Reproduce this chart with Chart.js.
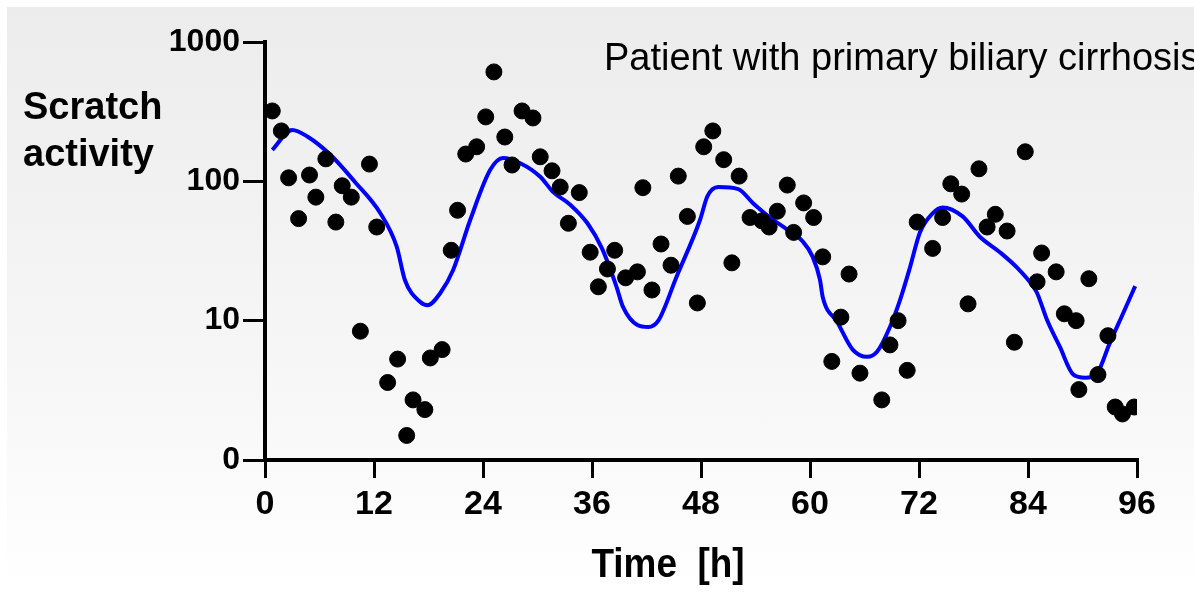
<!DOCTYPE html>
<html>
<head>
<meta charset="utf-8">
<script src="https://cdn.jsdelivr.net/npm/chart.js@4.4.0/dist/chart.umd.min.js"></script>
<style>
    html, body { margin: 0; padding: 0; background: #fff; }
    #wrap { position: relative; width: 1194px; height: 596px; overflow: hidden; }
    #panel {
        position: absolute; left: 7px; top: 7px; right: 0; bottom: 0;
        background: linear-gradient(to bottom, #ececec 0%, #f6f6f6 60%, #ffffff 100%);
    }
    #scratch-chart { position: absolute; left: 0; top: 0; }
</style>
</head>
<body>
<div id="wrap">
    <div id="panel"></div>
    <canvas id="scratch-chart" width="1194" height="596"></canvas>
</div>
<script>
// Mediciones (horas y actividad de rascado)
const hours = [0.8, 1.8, 2.6, 3.7, 4.9, 5.6, 6.7, 7.8, 8.5, 9.5, 10.5, 11.5, 12.3,
    13.5, 14.6, 15.6, 16.3, 17.6, 18.2, 19.5, 20.5, 21.2, 22.1, 23.3, 24.3, 25.2,
    26.4, 27.2, 28.3, 29.5, 30.3, 31.6, 32.5, 33.4, 34.6, 35.8, 36.7, 37.7, 38.5,
    39.7, 41.0, 41.6, 42.6, 43.6, 44.7, 45.5, 46.5, 47.6, 48.3, 49.3, 50.5, 51.4,
    52.2, 53.4, 54.7, 55.5, 56.4, 57.5, 58.2, 59.3, 60.4, 61.4, 62.4, 63.4, 64.3,
    65.5, 67.9, 68.8, 69.7, 70.7, 71.8, 73.5, 74.6, 75.5, 76.7, 77.4, 78.6, 79.5,
    80.4, 81.7, 82.5, 83.7, 85.0, 85.5, 87.1, 88.0, 89.3, 89.6, 90.7, 91.7, 92.8,
    93.6, 94.4, 95.7];
const activity = [320, 230, 106, 54, 111, 77, 145, 51, 93, 77, 8.4, 133, 47,
    3.6, 5.3, 1.5, 2.7, 2.3, 5.4, 6.2, 32, 62, 157, 177, 290, 610,
    208, 131, 320, 285, 150, 119, 91, 50, 83, 31, 17.5, 23.5, 32,
    20.3, 22.4, 90, 16.6, 35.5, 25, 109, 56, 13.4, 177, 230, 143, 26,
    109, 55, 52, 47, 61, 94, 43, 70, 55, 28.7, 5.1, 10.6, 21.6,
    4.2, 2.7, 6.7, 10, 4.4, 51, 33, 55, 96, 81, 13.2, 123, 47,
    58, 44, 7.0, 163, 19, 30.6, 22.4, 11.2, 10, 3.2, 20, 4.1, 7.8,
    2.4, 2.14, 2.4];

// Curva ajustada (azul)
const fitHours = [0.8, 3, 4.7, 7.2, 9.9, 12.7, 14.5, 15.4, 17.1, 17.9, 19.3, 20.7,
    22.6, 24.8, 26.2, 28.1, 30.3, 31.7, 33.6, 35.5, 37.1, 38.7, 39.4, 41, 42.2,
    43.3, 45.3, 47.9, 48.7, 49.9, 52.1, 53.7, 55.6, 57.5, 59.2, 60.3, 61.1, 61.4,
    63, 64.7, 66.3, 67.4, 68.8, 69.9, 71, 72.1, 73.5, 74.6, 76.8, 78.7, 80.9,
    82.8, 84.6, 85, 86.1, 87.5, 89, 90.3, 91.6, 93, 94.5, 95.8];
const fitValues = [168, 234, 209, 155, 99, 59, 34, 19.6, 13.6, 12.9, 15.8, 23,
    53, 121, 147, 135, 108, 84, 68, 50, 33, 17.5, 12.6, 9.3, 9.0,
    10, 20.6, 53, 78, 91, 88, 70, 55, 45, 37, 28.7, 19.6, 14.8,
    9.8, 6.2, 5.5, 6.0, 9, 14, 24, 43, 59, 65, 56, 40, 31,
    24, 17.5, 15.8, 10.1, 6.5, 4.1, 3.9, 4.2, 6.9, 11.4, 17.7];

const xTicks = [0, 12, 24, 36, 48, 60, 72, 84, 96];
const yTicks = [1, 10, 100, 1000];
const yTickLabels = ["0", "10", "100", "1000"];

const sans = "'Liberation Sans', Arial, sans-serif";

// Textos fijos: rótulo del eje Y, título del eje X y leyenda del paciente
const labelsPlugin = {
    id: "labels",
    afterDraw(chart) {
        const ctx = chart.ctx;
        ctx.save();
        ctx.fillStyle = "#000";
        ctx.textBaseline = "alphabetic";
        ctx.textAlign = "left";
        ctx.font = "bold 38px " + sans;
        ctx.fillText("Scratch", 23, 119);
        ctx.fillText("activity", 23, 166);
        ctx.font = "38px " + sans;
        ctx.fillText("Patient with primary biliary cirrhosis", 604, 70);
        // Título del eje X algo condensado
        ctx.translate(668, 577);
        ctx.scale(0.9, 1);
        ctx.font = "bold 41px " + sans;
        ctx.textAlign = "center";
        ctx.fillText("Time  [h]", 0, 0);
        ctx.restore();
    }
};

const ctx = document.getElementById("scratch-chart").getContext("2d");
new Chart(ctx, {
    type: "scatter",
    data: {
        datasets: [{
            label: "Ajuste",
            type: "line",
            data: fitHours.map((h, i) => ({ x: h, y: fitValues[i] })),
            borderColor: "#0000ff",
            borderWidth: 4,
            pointRadius: 0,
            tension: 0.4,
            cubicInterpolationMode: "monotone",
            fill: false,
            order: 2
        }, {
            label: "Actividad",
            data: hours.map((h, i) => ({ x: h, y: activity[i] })),
            backgroundColor: "#000",
            borderColor: "#000",
            pointRadius: 8,
            pointHoverRadius: 8,
            order: 1
        }]
    },
    options: {
        responsive: false,
        animation: false,
        layout: { padding: { top: 42, right: 57, left: 0, bottom: 0 } },
        plugins: {
            legend: { display: false },
            tooltip: { enabled: false }
        },
        scales: {
            x: {
                type: "linear",
                min: 0,
                max: 96,
                afterBuildTicks: (scale) => { scale.ticks = xTicks.map(v => ({ value: v })); },
                afterFit: (scale) => { scale.height = 136; },
                grid: { drawOnChartArea: false, drawTicks: true, tickLength: 18, color: "#000", lineWidth: 3 },
                border: { display: true, color: "#000", width: 4 },
                ticks: {
                    color: "#000",
                    padding: 6,
                    maxRotation: 0,
                    font: { family: sans, size: 34, weight: "bold" }
                }
            },
            y: {
                type: "logarithmic",
                min: 1,
                max: 1000,
                afterBuildTicks: (scale) => { scale.ticks = yTicks.map(v => ({ value: v })); },
                afterFit: (scale) => { scale.width = 265; },
                grid: { drawOnChartArea: false, drawTicks: true, tickLength: 22, color: "#000", lineWidth: 3 },
                border: { display: true, color: "#000", width: 4 },
                ticks: {
                    color: "#000",
                    padding: 3,
                    font: { family: sans, size: 32, weight: "bold" },
                    callback: (value) => yTickLabels[yTicks.indexOf(value)]
                }
            }
        }
    },
    plugins: [labelsPlugin]
});
</script>
</body>
</html>
